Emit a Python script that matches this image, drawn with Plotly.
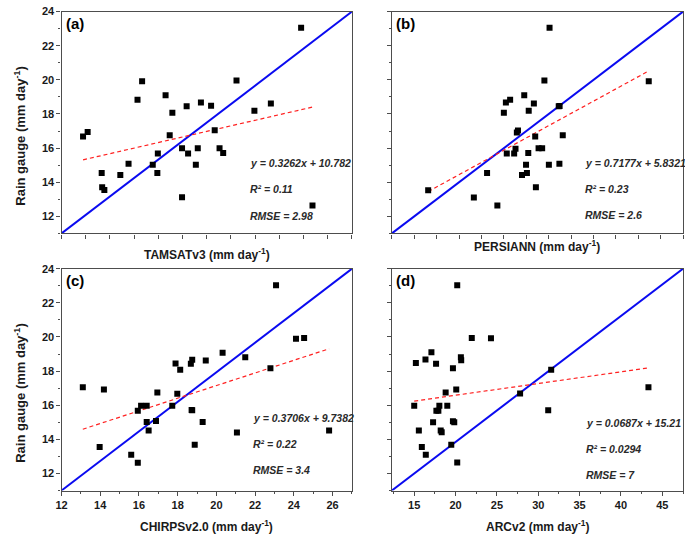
import plotly.graph_objects as go
from plotly.subplots import make_subplots

# rain gauge vs satellite estimates (mm/day)
tamsat_x = [13.89, 14.08, 14.66, 14.68, 14.77, 15.43, 15.77, 16.14, 16.33, 16.77, 16.96,
            16.98, 17.30, 17.47, 17.58, 17.98, 17.98, 18.17, 18.23, 18.55, 18.63, 18.76,
            19.18, 19.33, 19.53, 19.68, 20.23, 20.97, 21.65, 22.90, 23.37]
tamsat_y = [16.68, 16.94, 14.54, 13.70, 13.55, 14.42, 15.08, 18.83, 19.92, 15.02, 14.54,
            15.68, 19.10, 16.76, 18.08, 15.99, 13.12, 18.45, 15.68, 15.02, 15.99, 18.68,
            18.48, 17.05, 15.99, 15.72, 19.96, 18.19, 18.62, 23.05, 12.64]

persiann_x = [10.62, 12.66, 13.25, 13.71, 14.00, 14.09, 14.13, 14.28, 14.46, 14.52, 14.58,
              14.63, 14.81, 14.91, 14.99, 15.03, 15.09, 15.11, 15.34, 15.40, 15.43, 15.55,
              15.71, 15.81, 16.01, 16.04, 16.48, 16.49, 16.45, 16.63, 20.47]
persiann_y = [13.53, 13.10, 14.54, 12.64, 18.08, 18.68, 15.68, 18.83, 15.68, 15.97, 16.92,
              17.03, 14.42, 19.10, 15.02, 14.54, 15.72, 18.19, 18.62, 16.68, 13.70, 15.99,
              15.99, 19.96, 15.02, 23.05, 15.08, 18.47, 18.45, 16.76, 19.92]

chirps_x = [13.10, 13.97, 14.19, 15.60, 15.94, 15.94, 16.11, 16.40, 16.40, 16.50, 16.88,
            16.95, 17.72, 17.89, 17.98, 18.13, 18.68, 18.75, 18.75, 18.72, 18.88, 19.29,
            19.45, 20.32, 21.06, 21.49, 22.79, 23.08, 24.11, 24.53, 25.82]
chirps_y = [17.05, 13.55, 16.92, 13.10, 15.68, 12.62, 15.97, 15.97, 15.02, 14.52, 15.08,
            16.74, 15.97, 18.45, 16.67, 18.08, 18.43, 18.66, 15.70, 15.72, 13.68, 15.02,
            18.62, 19.08, 14.40, 18.81, 18.17, 23.03, 19.90, 19.94, 14.52]

arc_x = [15.00, 15.20, 15.56, 15.92, 16.36, 16.40, 17.08, 17.28, 17.64, 17.68, 17.92,
         18.04, 18.20, 18.32, 18.80, 19.00, 19.48, 19.68, 19.68, 19.84, 20.08, 20.20,
         20.20, 20.64, 20.68, 21.96, 24.28, 27.80, 31.20, 31.56, 43.32]
arc_y = [15.97, 18.47, 14.52, 13.55, 18.68, 13.10, 19.10, 15.00, 18.43, 15.68, 15.68,
         15.97, 14.52, 14.42, 16.74, 15.97, 13.68, 18.17, 15.06, 15.00, 16.92, 23.03,
         12.64, 18.81, 18.64, 19.94, 19.92, 16.68, 15.70, 18.08, 17.05]

# linear fits and scores printed on the panels
slopes = [0.3262, 0.7177, 0.3706, 0.0687]
intercepts = [10.782, 5.8321, 9.7382, 15.21]
r2_labels = ["0.11", "0.23", "0.22", "0.0294"]
rmse_labels = ["2.98", "2.6", "3.4", "7"]
fit_labels = ["y = 0.3262x + 10.782", "y = 0.7177x + 5.8321",
              "y = 0.3706x + 9.7382", "y = 0.0687x + 15.21"]

products = ["TAMSATv3", "PERSIANN", "CHIRPSv2.0", "ARCv2"]
panel_tags = ["(a)", "(b)", "(c)", "(d)"]
x_ranges = [[13, 25], [9, 22], [12, 27], [12.3, 47.5]]
y_range = [11, 24]

xs = [tamsat_x, persiann_x, chirps_x, arc_x]
ys = [tamsat_y, persiann_y, chirps_y, arc_y]

FONT = "Liberation Sans, Arial, sans-serif"
FRAME = "#4d4d4d"
INK = "#1a1a1a"

W, H = 685, 535
left_dom = [56 / W, 349 / W]
right_dom = [389.3 / W, 683 / W]
top_dom = [1 - 230 / H, 1 - 5.7 / H]
bot_dom = [1 - 490 / H, 1 - 265.7 / H]

fig = make_subplots(rows=2, cols=2)
cells = [(1, 1), (1, 2), (2, 1), (2, 2)]
x_doms = [left_dom, right_dom, left_dom, right_dom]
y_doms = [top_dom, top_dom, bot_dom, bot_dom]

# per-panel placement of text (domain fractions) and x-title offset (px)
stat_x = [0.642, 0.655, 0.652, 0.66]
stat_y = [[0.317, 0.20, 0.08], [0.317, 0.20, 0.084], [0.325, 0.21, 0.094], [0.303, 0.187, 0.071]]
xtitle_shift = [-11, -3, -25, -25]

for i, (r, c) in enumerate(cells):
    # diagonal from corner to corner
    fig.add_trace(go.Scatter(x=x_ranges[i], y=y_range, mode="lines",
                             line=dict(color="#0a0af0", width=2), showlegend=False,
                             hoverinfo="skip"), row=r, col=c)
    lo, hi = min(xs[i]), max(xs[i])
    fig.add_trace(go.Scatter(x=[lo, hi],
                             y=[slopes[i] * lo + intercepts[i], slopes[i] * hi + intercepts[i]],
                             mode="lines", line=dict(color="#ff2020", width=1.2, dash="4px,3px"),
                             showlegend=False, hoverinfo="skip"), row=r, col=c)
    fig.add_trace(go.Scatter(x=xs[i], y=ys[i], mode="markers",
                             marker=dict(symbol="square", size=6, color="black"),
                             showlegend=False), row=r, col=c)

    show_x_labels = r == 2
    show_y_labels = c == 1
    if i == 3:
        xtick = dict(tick0=15, dtick=5, minor=dict(dtick=2.5, ticklen=2, ticks="outside",
                                                    tickcolor=FRAME))
    elif i == 2:
        xtick = dict(tick0=12, dtick=2, minor=dict(dtick=1, ticklen=2, ticks="outside",
                                                    tickcolor=FRAME))
    else:
        xtick = dict(tick0=x_ranges[i][0], dtick=1)
    fig.update_xaxes(range=x_ranges[i], domain=x_doms[i], showgrid=False, zeroline=False,
                     showline=True, linecolor=FRAME, linewidth=1.3, mirror=True,
                     ticks="outside", ticklen=4, tickcolor=FRAME,
                     showticklabels=show_x_labels,
                     tickfont=dict(family=FONT, size=11, color=INK, weight="bold"),
                     row=r, col=c, **xtick)
    fig.update_yaxes(range=y_range, domain=y_doms[i], showgrid=False, zeroline=False,
                     showline=True, linecolor=FRAME, linewidth=1.3, mirror=True,
                     ticks="outside", ticklen=4, tickcolor=FRAME, tick0=12, dtick=2,
                     minor=dict(dtick=1, ticklen=2, ticks="outside", tickcolor=FRAME),
                     showticklabels=show_y_labels,
                     tickfont=dict(family=FONT, size=11, color=INK, weight="bold"),
                     row=r, col=c)

    xref = "x domain" if i == 0 else f"x{i + 1} domain"
    yref = "y domain" if i == 0 else f"y{i + 1} domain"
    fig.add_annotation(xref=xref, yref=yref, x=0.5, y=0, yanchor="top", yshift=xtitle_shift[i],
                       text=f"<b>{products[i]} (mm day<sup>-1</sup>)</b>", showarrow=False,
                       font=dict(family=FONT, size=12, color=INK))
    fig.add_annotation(xref=xref, yref=yref, x=0, y=1, xanchor="left", yanchor="top",
                       xshift=2, yshift=-1,
                       text=f"<b>{panel_tags[i]}</b>", showarrow=False,
                       font=dict(family=FONT, size=15, color="black"))
    stats = [fit_labels[i], f"R² = {r2_labels[i]}", f"RMSE = {rmse_labels[i]}"]
    for txt, yy in zip(stats, stat_y[i]):
        fig.add_annotation(xref=xref, yref=yref, x=stat_x[i], y=yy, xanchor="left",
                           yanchor="middle", text=f"<b><i>{txt}</i></b>", showarrow=False,
                           font=dict(family=FONT, size=10.5, color="#2a2a2a"))
    if show_y_labels:
        fig.add_annotation(xref="paper", yref=yref, x=14 / W, y=0.44, textangle=-90,
                           xanchor="center", yanchor="middle",
                           text="<b>Rain gauge (mm day<sup>-1</sup>)</b>", showarrow=False,
                           font=dict(family=FONT, size=13, color=INK))

fig.update_layout(width=W, height=H, margin=dict(l=0, r=0, t=0, b=0),
                  paper_bgcolor="white", plot_bgcolor="white", showlegend=False)

# drop the browser's default 8px body margin so the figure sits at the window origin
fig.write_html("out.html", config={"displayModeBar": False},
               post_script="document.body.style.margin = '0';")
